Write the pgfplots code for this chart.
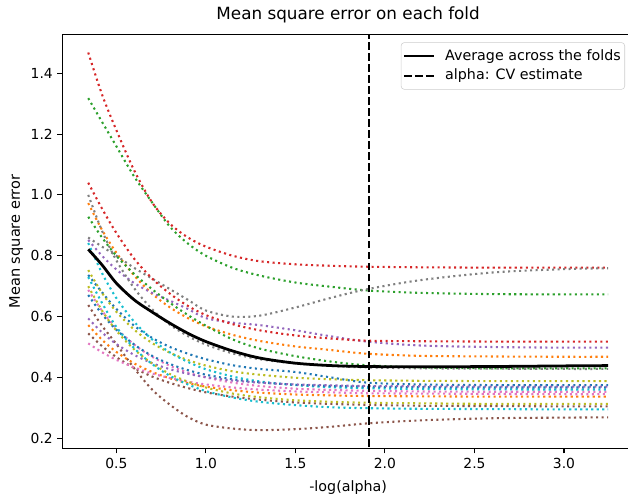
\documentclass[border=0pt]{standalone}
\usepackage{fontspec}
\setmainfont{DejaVu Sans}
\usepackage{pgfplots}
\usepackage{pgfplotstable}
\pgfplotsset{compat=1.18}
\definecolor{C0}{HTML}{1F77B4}
\definecolor{C1}{HTML}{FF7F0E}
\definecolor{C2}{HTML}{2CA02C}
\definecolor{C3}{HTML}{D62728}
\definecolor{C4}{HTML}{9467BD}
\definecolor{C5}{HTML}{8C564B}
\definecolor{C6}{HTML}{E377C2}
\definecolor{C7}{HTML}{7F7F7F}
\definecolor{C8}{HTML}{BCBD22}
\definecolor{C9}{HTML}{17BECF}

\pgfplotstableread{
x     avg   c3a   c2a   c3b   c7b   c1a   c2b   c7a   c4a   c9a   c8a   c0a   c9b   c6a   c0b   c5a   c4b   c1b   c5b   c6b   c8b
0.343 0.821 1.468 1.318 1.040 1.000 0.973 0.928 0.860 0.852 0.842 0.753 0.737 0.730 0.688 0.671 0.638 0.594 0.572 0.545 0.512 0.700
0.42  0.770 1.330 1.240 0.955 0.882 0.885 0.860 0.830 0.800 0.743 0.678 0.680 0.645 0.619 0.608 0.570 0.548 0.524 0.503 0.483 0.620
0.5   0.710 1.213 1.160 0.875 0.785 0.810 0.800 0.800 0.755 0.661 0.616 0.625 0.566 0.562 0.557 0.510 0.510 0.484 0.467 0.458 0.554
0.6   0.655 1.080 1.060 0.790 0.693 0.735 0.740 0.760 0.710 0.583 0.557 0.570 0.496 0.508 0.508 0.430 0.474 0.446 0.431 0.433 0.492
0.7   0.615 0.975 0.975 0.725 0.624 0.675 0.690 0.725 0.678 0.525 0.513 0.530 0.444 0.468 0.471 0.360 0.447 0.418 0.403 0.413 0.446
0.8   0.578 0.905 0.895 0.675 0.573 0.630 0.645 0.690 0.652 0.482 0.481 0.500 0.405 0.438 0.444 0.310 0.427 0.397 0.382 0.398 0.411
0.9   0.545 0.860 0.840 0.635 0.536 0.595 0.605 0.655 0.625 0.451 0.457 0.478 0.377 0.416 0.424 0.270 0.412 0.381 0.365 0.386 0.386
1.0   0.518 0.830 0.800 0.605 0.508 0.568 0.570 0.620 0.595 0.427 0.439 0.460 0.355 0.400 0.409 0.245 0.401 0.370 0.351 0.377 0.367
1.15  0.487 0.800 0.760 0.575 0.479 0.540 0.525 0.600 0.580 0.403 0.420 0.440 0.334 0.383 0.394 0.232 0.390 0.358 0.337 0.367 0.347
1.3   0.464 0.782 0.735 0.555 0.460 0.520 0.495 0.603 0.572 0.387 0.409 0.428 0.320 0.372 0.384 0.227 0.383 0.350 0.327 0.360 0.335
1.5   0.447 0.772 0.712 0.538 0.446 0.502 0.470 0.630 0.555 0.375 0.399 0.418 0.309 0.363 0.376 0.230 0.377 0.344 0.318 0.354 0.325
1.7   0.439 0.767 0.698 0.528 0.438 0.490 0.452 0.662 0.535 0.368 0.394 0.400 0.302 0.359 0.372 0.238 0.374 0.341 0.313 0.351 0.320
1.9   0.436 0.764 0.686 0.521 0.433 0.478 0.440 0.690 0.518 0.365 0.391 0.383 0.299 0.356 0.370 0.249 0.372 0.339 0.310 0.348 0.317
2.2   0.435 0.762 0.678 0.519 0.430 0.471 0.433 0.720 0.505 0.362 0.389 0.377 0.297 0.354 0.368 0.259 0.371 0.338 0.307 0.347 0.315
2.6   0.436 0.761 0.674 0.518 0.429 0.469 0.430 0.745 0.500 0.361 0.388 0.375 0.296 0.353 0.367 0.266 0.370 0.337 0.306 0.346 0.313
3.0   0.438 0.761 0.673 0.518 0.428 0.468 0.430 0.756 0.498 0.360 0.388 0.375 0.295 0.353 0.367 0.268 0.370 0.337 0.305 0.345 0.313
3.246 0.439 0.761 0.673 0.518 0.428 0.468 0.430 0.759 0.498 0.360 0.388 0.375 0.295 0.353 0.367 0.269 0.370 0.337 0.305 0.345 0.313
}\folds

\pgfplotstableread{
x     y
1.912 0.10
1.912 1.60
}\cvline

\begin{document}
\begin{tikzpicture}
\begin{axis}[
  name=ax,
  scale only axis,
  width=428.8pt, height=310.8pt,
  xmin=0.198, xmax=3.391, ymin=0.166, ymax=1.528,
  axis line style={black, line width=0.8pt},
  tick align=outside, tick pos=left,
  major tick length=3.6pt,
  every tick/.style={black, line width=0.8pt},
  xtick={0.5,1.0,1.5,2.0,2.5,3.0},
  ytick={0.2,0.4,0.6,0.8,1.0,1.2,1.4},
  xticklabel style={/pgf/number format/.cd, fixed, fixed zerofill, precision=1},
  yticklabel style={/pgf/number format/.cd, fixed, fixed zerofill, precision=1},
  /pgf/number format/assume math mode=true,
  tick label style={font=\fontsize{10.4}{12.5}\selectfont},
  title={Mean square error on each fold},
  title style={font=\fontsize{12.6}{15}\selectfont, at={(axis description cs:0.5,1)}, anchor=base, yshift=5pt},
  xlabel={-log(alpha)},
  every axis x label/.style={at={(axis description cs:0.5,0)}, anchor=base, yshift=-32.5pt, font=\fontsize{10.7}{12.8}\selectfont},
  ylabel={Mean square error},
  every axis y label/.style={at={(axis description cs:0,0.5)}, xshift=-34.7pt, rotate=90, anchor=center, font=\fontsize{10.9}{13}\selectfont},
  legend style={at={(axis description cs:1,1)}, anchor=north east, xshift=-6.75pt, yshift=-6pt,
    draw=black!20, rounded corners=2.5pt, fill=white,
    inner xsep=1pt, inner ysep=3pt, row sep=0.5pt,
    font=\fontsize{10.7}{12.8}\selectfont,
    nodes={inner sep=2pt, text depth=0.22em},
    /tikz/every odd column/.append style={column sep=5pt}},
  legend cell align=left,
  legend image code/.code={\draw[#1] (0pt,0pt) -- (23pt,0pt);},
  no markers,
  fold/.style={smooth, line width=1.56pt, dash pattern=on 1.56pt off 2.57pt, forget plot},
]
\addplot[fold, C0] table[x=x, y=c0a] {\folds};
\addplot[fold, C1] table[x=x, y=c1a] {\folds};
\addplot[fold, C2] table[x=x, y=c2a] {\folds};
\addplot[fold, C3] table[x=x, y=c3a] {\folds};
\addplot[fold, C4] table[x=x, y=c4a] {\folds};
\addplot[fold, C5] table[x=x, y=c5a] {\folds};
\addplot[fold, C6] table[x=x, y=c6a] {\folds};
\addplot[fold, C7] table[x=x, y=c7a] {\folds};
\addplot[fold, C8] table[x=x, y=c8a] {\folds};
\addplot[fold, C9] table[x=x, y=c9a] {\folds};
\addplot[fold, C0] table[x=x, y=c0b] {\folds};
\addplot[fold, C1] table[x=x, y=c1b] {\folds};
\addplot[fold, C2] table[x=x, y=c2b] {\folds};
\addplot[fold, C3] table[x=x, y=c3b] {\folds};
\addplot[fold, C4] table[x=x, y=c4b] {\folds};
\addplot[fold, C5] table[x=x, y=c5b] {\folds};
\addplot[fold, C6] table[x=x, y=c6b] {\folds};
\addplot[fold, C7] table[x=x, y=c7b] {\folds};
\addplot[fold, C8] table[x=x, y=c8b] {\folds};
\addplot[fold, C9] table[x=x, y=c9b] {\folds};
\addplot[black, line width=2.08pt, smooth] table[x=x, y=avg] {\folds};
\addlegendentry{Average across the folds}
\addplot[black, line width=1.56pt, dash pattern=on 5.77pt off 2.5pt] table[x=x, y=y] {\cvline};
\addlegendentry{alpha: CV estimate}
\end{axis}
\pgfresetboundingbox
\path[use as bounding box] ([xshift=-46.7pt,yshift=-37pt]ax.south west) rectangle ([xshift=424.3pt,yshift=336.5pt]ax.south west);
\end{tikzpicture}
\end{document}
